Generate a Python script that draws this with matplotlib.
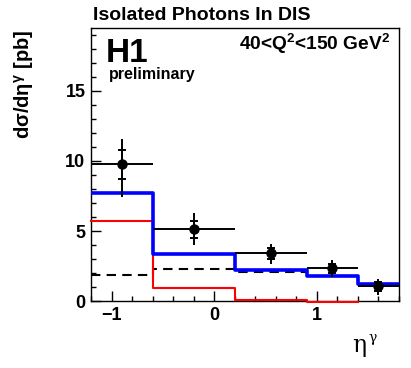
import matplotlib
matplotlib.use("Agg")
import matplotlib.pyplot as plt
import numpy as np

plt.rcParams['font.family'] = ['Liberation Sans', 'DejaVu Sans']
plt.rcParams['mathtext.fontset'] = 'custom'
plt.rcParams['mathtext.rm'] = 'Liberation Sans:bold'
plt.rcParams['mathtext.bf'] = 'Liberation Sans:bold'

# data
edges = [-1.2, -0.6, 0.2, 0.9, 1.4, 1.8]
x_pts = [-0.9, -0.2, 0.55, 1.15, 1.6]
y_pts = [9.78, 5.14, 3.45, 2.34, 1.04]
stat_lo = [1.08, 0.67, 0.45, 0.35, 0.3]
stat_hi = [0.97, 0.61, 0.35, 0.3, 0.3]
tot_lo = [2.34, 1.11, 0.79, 0.65, 0.61]
tot_hi = [1.82, 1.14, 0.60, 0.61, 0.53]
total_pred = [7.73, 3.33, 2.22, 1.76, 1.21]
red_pred = [5.75, 0.9, 0.1, -0.05]
dashed_pred = [1.86, 2.3, 2.06, 1.76, 1.21]

fig = plt.figure(figsize=(4.11, 3.68), dpi=100)
ax = fig.add_axes([0.2214, 0.182, 0.7494, 0.742])

def step(ax, e, v, **kw):
    xs, ys = [], []
    for i, val in enumerate(v):
        xs += [e[i], e[i + 1]]
        ys += [val, val]
    ax.plot(xs, ys, **kw)

step(ax, edges, dashed_pred, color='black', lw=1.5, ls=(0, (4.5, 3)), zorder=2)
step(ax, edges[:5], red_pred, color='#ff0000', lw=1.5, zorder=3, clip_on=False)
step(ax, edges, total_pred, color='#0000ff', lw=2.6, zorder=4)

xerr_lo = [x - edges[i] for i, x in enumerate(x_pts)]
xerr_hi = [edges[i + 1] - x for i, x in enumerate(x_pts)]
# total errors
ax.errorbar(x_pts, y_pts, yerr=[tot_lo, tot_hi], xerr=[xerr_lo, xerr_hi],
            fmt='o', color='black', ms=6.5, elinewidth=1.4, capsize=0, zorder=6)
# stat errors with ticks
ax.errorbar(x_pts, y_pts, yerr=[stat_lo, stat_hi], fmt='none', ecolor='black',
            elinewidth=1.4, capsize=3, capthick=1.4, zorder=6)

ax.set_xlim(-1.2, 1.8)
ax.set_ylim(0, 19.5)
ax.set_xticks([-1, 0, 1])
ax.set_yticks([0, 5, 10, 15])
ax.set_xticks(np.arange(-1.2, 1.81, 0.2), minor=True)
ax.set_yticks(np.arange(0, 19.5, 1), minor=True)
ax.tick_params(which='both', direction='in', top=False, right=False)
ax.tick_params(which='major', length=7, width=1, labelsize=13, pad=4)
ax.tick_params(which='minor', length=3.5, width=1)
for lab in ax.get_xticklabels() + ax.get_yticklabels():
    lab.set_fontweight('bold')
for sp in ax.spines.values():
    sp.set_linewidth(1)

fig.text(93 / 411, 1 - 20 / 368, 'Isolated Photons In DIS', fontsize=14,
         fontweight='bold', ha='left', va='baseline')
fig.text(106 / 411, 1 - 62 / 368, 'H1', fontsize=24, fontweight='bold',
         ha='left', va='baseline')
fig.text(109 / 411, 1 - 79 / 368, 'preliminary', fontsize=11.5, fontweight='bold',
         ha='left', va='baseline')
fig.text(390 / 411, 1 - 50 / 368, r'40<Q$^{\mathbf{2}}$<150 GeV$^{\mathbf{2}}$',
         fontsize=13.8, fontweight='bold', ha='right', va='baseline')
fig.text(24 / 411, 1 - 30 / 368, 'd\u03c3/d\u03b7$^{\\mathbf{\u03b3}}$ [pb]', fontsize=14.5,
         fontweight='bold', rotation=90, ha='center', va='top')
fig.text(352 / 411, 1 - 352 / 368, '\u03b7', fontsize=17,
         ha='left', va='baseline', family='DejaVu Serif')
fig.text(368 / 411, 1 - 342 / 368, '\u03b3', fontsize=10,
         ha='left', va='baseline', family='DejaVu Serif')

fig.savefig('out.png', dpi=100)
